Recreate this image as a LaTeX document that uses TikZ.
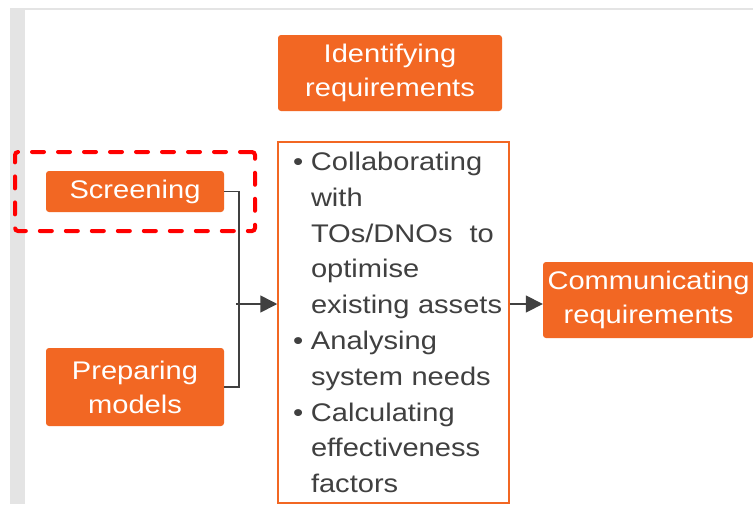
\documentclass[tikz,border=0pt]{standalone}
\usepackage{fontspec}
\setmainfont{Liberation Sans}[FakeStretch=1.14]
\usetikzlibrary{arrows.meta}
\definecolor{orng}{HTML}{F26723}
\definecolor{dgray}{HTML}{404040}
\definecolor{bggray}{HTML}{E4E4E4}
\newcommand\bulletmark{\hspace*{15pt}\makebox[18pt][l]{•}}
\newcommand\indentmark{\hspace*{33pt}}
\begin{document}
\begin{tikzpicture}[x=1pt,y=-1pt,
  every node/.style={font=\fontsize{25.5}{35.8}\selectfont},
  obox/.style={fill=orng, rounded corners=3pt, text=white, align=center, inner sep=0pt,
    font=\fontsize{25.5}{34}\selectfont},
  midbox/.style={draw=orng, line width=1.5pt, text=dgray, text width=231pt, inner xsep=0pt,
    inner ysep=0pt, align=left, minimum height=361pt},
  dashbox/.style={draw=red, line width=4pt, dash pattern=on 12pt off 14pt, line cap=round,
    rounded corners=3pt, minimum width=240pt, minimum height=79pt, inner sep=0pt},
  conn/.style={draw=dgray, line width=1.6pt},
  arr/.style={conn, -{Triangle[length=17pt,width=17pt]}}
]
\useasboundingbox (0,0) rectangle (753,504);
\fill[white] (0,0) rectangle (753,504);
\fill[bggray] (10,7.5) rectangle (753,10);
\fill[bggray] (10,7.5) rectangle (25,504);

\node[obox, minimum width=224pt, minimum height=76pt] (ident) at (390,73) {\raisebox{-3pt}{Identifying}\\\raisebox{-3pt}{requirements}};
\node[obox, minimum width=178pt, minimum height=41pt] (screen) at (135,191.5) {Screening};
\node[dashbox] (hl) at (135,191.5) {};
\node[obox, minimum width=178pt, minimum height=78pt] (prep) at (135,387) {Preparing\\models};
\node[midbox] (mid) at (393.5,322.5) {\bulletmark Collaborating\\
\indentmark with\\
\indentmark TOs/DNOs\ \ to\\
\indentmark optimise\\
\indentmark existing assets\\
\bulletmark Analysing\\
\indentmark system needs\\
\bulletmark Calculating\\
\indentmark effectiveness\\
\indentmark factors};
\node[obox, minimum width=211pt, minimum height=76pt] (comm) at (648.5,300) {Communicating\\requirements};

\coordinate (ain) at (236,304);
\draw[conn] (screen.east) -- ++(15,0) |- (prep.east);
\draw[arr] (ain) -- (ain -| mid.west);
\draw[arr] (mid.east |- ain) -- (comm.west |- ain);
\end{tikzpicture}
\end{document}
